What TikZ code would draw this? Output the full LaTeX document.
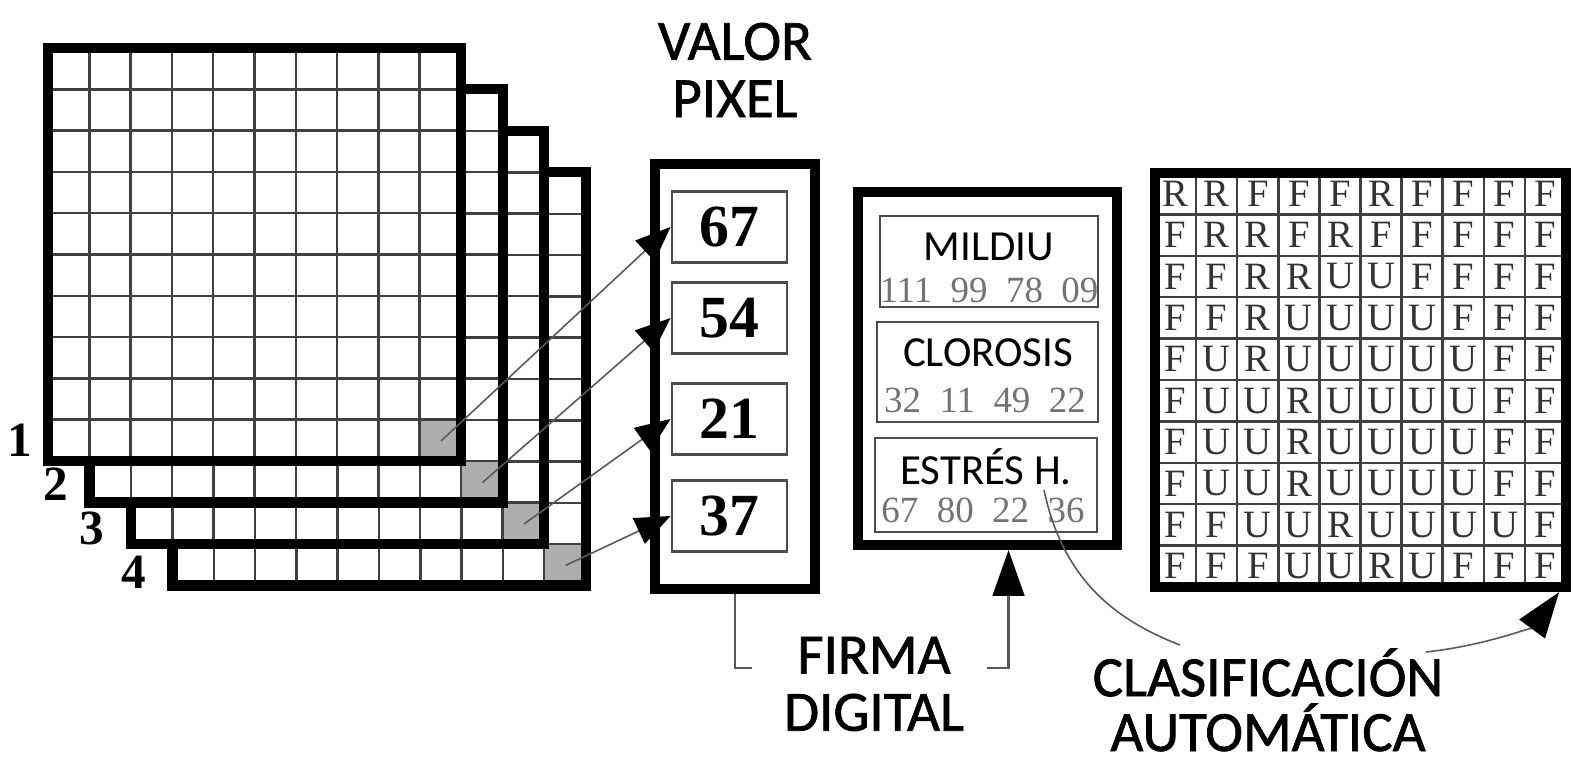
\documentclass[tikz,border=0pt]{standalone}
\usepackage{fontspec}
\setmainfont{Carlito}
\newfontfamily\serifnum{Liberation Serif}
\newfontfamily\labfont{Carlito}[FakeBold=1.2]
\usetikzlibrary{arrows.meta,positioning}
\newcommand{\sgap}{\hspace{0.5em}}

\begin{document}
\begin{tikzpicture}[
  x=0.01cm,y=-0.01cm,
  >={Triangle[length=10pt,width=8pt,color=black]},
  frame/.style={line width=0.1cm,black},
  gridln/.style={line width=0.7pt,black!75},
  cellgray/.style={fill=black!32},
  valbox/.style={draw=black!70,line width=0.8pt,minimum width=1.15cm,minimum height=0.71cm,
    inner sep=0pt,font=\serifnum\bfseries\fontsize{17}{20}\selectfont},
  sigbox/.style={draw=black!70,line width=0.8pt,inner sep=0pt},
  signame/.style={font=\fontsize{12.2}{14}\selectfont},
  signum/.style={font=\serifnum\fontsize{10.5}{12}\selectfont,text=black!55},
  biglab/.style={font=\labfont\fontsize{16.2}{16.3}\selectfont,align=center},
  laylab/.style={font=\serifnum\bfseries\fontsize{14}{16}\selectfont},
  cls/.style={font=\serifnum\fontsize{11}{12}\selectfont,text=black!80,inner sep=0pt},
  conn/.style={line width=0.45pt,black!65}
]
  \fill[white] (0,0) rectangle (1573,761);
  \useasboundingbox (0,0) rectangle (1573,761);

  % stacked bands, back to front
  \foreach \k in {4,3,2,1}{
    \begin{scope}[shift={({41.5*(\k-1)},{41.5*(\k-1)})}]
      \fill[white] (48,48) rectangle (461,461);
      \fill[cellgray] (419.7,419.7) rectangle (461,461);
      \foreach \i in {1,...,9}{
        \draw[gridln] (48+41.3*\i,48) -- (48+41.3*\i,461);
        \draw[gridln] (48,48+41.3*\i) -- (461,48+41.3*\i);
      }
      \draw[frame] (48,48) rectangle (461,461);
      \coordinate (px\k) at (441,441);
    \end{scope}
  }
  \node[laylab] (lay1) at (20,440) {1};
  \node[laylab] (lay2) at (56,484) {2};
  \node[laylab] (lay3) at (92,528) {3};
  \node[laylab] (lay4) at (134,572) {4};

  % pixel values
  \node[biglab] (valor) at (735,70) {VALOR\\PIXEL};
  \node[draw,frame,minimum width=1.6cm,minimum height=4.25cm,inner sep=0pt] (colbox) at (735,376.5) {};
  \node[valbox] (val1) at (729.5,227) {67};
  \node[valbox] (val2) at (729.5,318) {54};
  \node[valbox] (val3) at (729.5,419) {21};
  \node[valbox] (val4) at (729.5,516) {37};
  \foreach \k in {1,...,4}
    \draw[conn,->] (px\k) -- (val\k.west);

  % signatures
  \node[draw,frame,minimum width=2.59cm,minimum height=3.53cm,inner sep=0pt] (sigbox) at (987.5,368.5) {};
  \node[sigbox,minimum width=2.18cm,minimum height=0.91cm] (mildiu) at (989,261.5) {};
  \node[sigbox,minimum width=2.21cm,minimum height=1.0cm] (clorosis) at (987.5,372) {};
  \node[sigbox,minimum width=2.22cm,minimum height=0.94cm] (estres) at (986,485) {};
  \node[signame] (mildiu-t) at (989,247) {MILDIU};
  \node[signum] (mildiu-n) at (989,290) {111\sgap 99\sgap 78\sgap 09};
  \node[signame] (clorosis-t) at (988,353) {CLOROSIS};
  \node[signum] (clorosis-n) at (985,400) {32\sgap 11\sgap 49\sgap 22};
  \node[signame] (estres-t) at (986,467) {ESTRÉS H.};
  \node[signum] (estres-n) at (983,510) {67\sgap 80\sgap 22\sgap 36};

  \node[biglab] (firma) at (874,684) {FIRMA\\DIGITAL};
  \coordinate (firmaL) at (752,668);
  \coordinate (firmaR) at (987,668);
  \draw[conn,line width=0.8pt] (colbox.south) |- (firmaL);
  \draw[conn,line width=0.8pt,-{Triangle[length=13pt,width=9pt,color=black]}]
    (firmaR) -| ([xshift=0.21cm]sigbox.south);

  % classified map
  \node[draw,frame,minimum width=4.11cm,minimum height=4.14cm,inner sep=0pt] (clsgrid) at (1360.5,380) {};
  \foreach \i in {1,...,9}{
    \draw[gridln] (1155+41.1*\i,178) -- (1155+41.1*\i,582);
    \draw[gridln] (1160,173+41.4*\i) -- (1561,173+41.4*\i);
  }
  \foreach \row [count=\r] in {
      {R,R,F,F,F,R,F,F,F,F},
      {F,R,R,F,R,F,F,F,F,F},
      {F,F,R,R,U,U,F,F,F,F},
      {F,F,R,U,U,U,U,F,F,F},
      {F,U,R,U,U,U,U,U,F,F},
      {F,U,U,R,U,U,U,U,F,F},
      {F,U,U,R,U,U,U,U,F,F},
      {F,U,U,R,U,U,U,U,F,F},
      {F,F,U,U,R,U,U,U,U,F},
      {F,F,F,U,U,R,U,F,F,F}}{
    \foreach \c [count=\i] in \row
      \node[cls] (cl-\r-\i) at (1155+41.1*\i-20.5,173+41.4*\r-20.7) {\c};
  }

  \node[biglab,font=\labfont\fontsize{16.2}{15.6}\selectfont] (clasif) at (1268,700) {CLASIFICACIÓN\\AUTOMÁTICA};
  \coordinate (sig36) at (1044,490);
  \coordinate (clasC) at (1180,645);
  \coordinate (clasO) at (1426,652);
  \draw[conn] (sig36) .. controls (1062,575) and (1110,618) .. (clasC);
  \draw[conn,-{Triangle[length=13pt,width=9pt,color=black]}]
    (clasO) .. controls (1490,645) and (1535,625) .. ([xshift=-0.12cm]clsgrid.south east);
\end{tikzpicture}
\end{document}
